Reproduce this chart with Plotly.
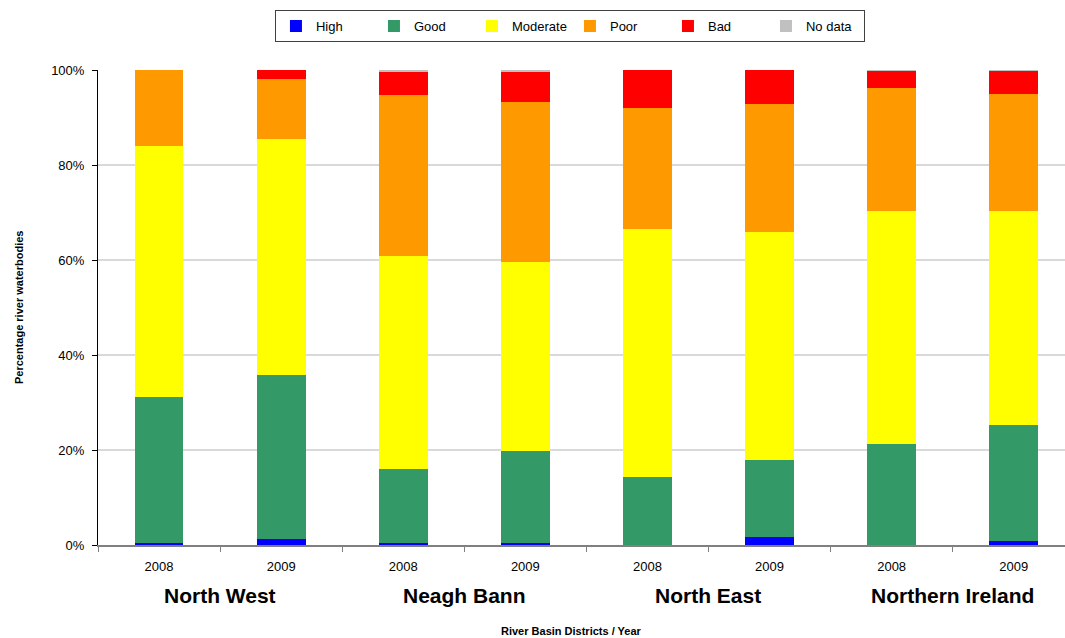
import plotly.graph_objects as go

# Categories: river basin district and assessment year
districts = ["North West", "North West", "Neagh Bann", "Neagh Bann",
             "North East", "North East", "Northern Ireland", "Northern Ireland"]
years = ["2008", "2009", "2008", "2009", "2008", "2009", "2008", "2009"]
district_names = ["North West", "Neagh Bann", "North East", "Northern Ireland"]

# Percentage of river waterbodies in each status class
high = [0.4, 1.3, 0.4, 0.4, 0.0, 1.7, 0.0, 0.8]
good = [30.8, 34.5, 15.6, 19.4, 14.3, 16.2, 21.3, 24.5]
moderate = [52.8, 49.7, 44.8, 39.8, 52.2, 48.0, 49.0, 45.0]
poor = [16.0, 12.6, 33.9, 33.7, 25.5, 26.9, 25.9, 24.6]
bad = [0.0, 1.9, 4.9, 6.3, 8.0, 7.2, 3.6, 4.9]
no_data = [0.0, 0.0, 0.4, 0.4, 0.0, 0.0, 0.2, 0.2]

y_ticks = [0, 20, 40, 60, 80, 100]
y_tick_labels = ["0%", "20%", "40%", "60%", "80%", "100%"]

series = [
    ("High", high, "#0000FF"),
    ("Good", good, "#339966"),
    ("Moderate", moderate, "#FFFF00"),
    ("Poor", poor, "#FF9900"),
    ("Bad", bad, "#FF0000"),
    ("No data", no_data, "#C0C0C0"),
]

cats = [f"{d} {y}" for d, y in zip(districts, years)]

FONT = "Liberation Sans, Arial, sans-serif"

fig = go.Figure()
for name, vals, color in series:
    fig.add_trace(go.Bar(
        name=name, x=cats, y=vals,
        marker=dict(color=color, line=dict(width=0)),
        hovertemplate="%{x}: %{y}%<extra>" + name + "</extra>",
    ))

# District names centred under each pair of years
for i, d in enumerate(district_names):
    fig.add_annotation(
        x=2 * i + 0.5, xref="x", y=-0.107, yref="paper",
        text="<b>" + d + "</b>", showarrow=False, xanchor="center", yanchor="middle",
        font=dict(family=FONT, size=21, color="black"),
    )

fig.add_annotation(
    x=0.49, xref="paper", y=-0.18, yref="paper",
    text="<b>River Basin Districts / Year</b>", showarrow=False,
    xanchor="center", yanchor="middle",
    font=dict(family=FONT, size=11, color="black"),
)

fig.add_annotation(
    x=-0.0817, xref="paper", y=0.501, yref="paper",
    text="<b>Percentage river waterbodies</b>", showarrow=False,
    textangle=-90, xanchor="center", yanchor="middle",
    font=dict(family=FONT, size=11, color="black"),
)

fig.update_layout(
    width=1065, height=638,
    barmode="stack", bargap=0.6,
    plot_bgcolor="white", paper_bgcolor="white",
    margin=dict(l=98, r=0, t=70, b=93),
    font=dict(family=FONT, size=12, color="black"),
    legend=dict(
        orientation="h", x=0.183, y=1.126, xanchor="left", yanchor="top",
        bordercolor="#404040", borderwidth=1,
        font=dict(family=FONT, size=13, color="black"),
        entrywidth=53, entrywidthmode="pixels",
        traceorder="normal",
    ),
    xaxis=dict(
        type="category", range=[-0.5, 7.42],
        tickmode="array", tickvals=cats, ticktext=years,
        tickson="boundaries", ticks="outside", ticklen=5, tickcolor="#808080",
        showgrid=False, showline=True, linecolor="#808080", linewidth=2,
        tickfont=dict(family=FONT, size=13, color="black"),
        ticklabelstandoff=8,
    ),
    yaxis=dict(
        range=[0, 100], tickmode="array", tickvals=y_ticks, ticktext=y_tick_labels,
        ticks="outside", ticklen=5, tickcolor="black",
        showline=True, linecolor="black", linewidth=1,
        showgrid=True, gridcolor="#D9D9D9", gridwidth=2,
        zeroline=False,
        tickfont=dict(family=FONT, size=13, color="black"),
        ticklabelstandoff=5,
    ),
)

fig.write_html("out.html")
